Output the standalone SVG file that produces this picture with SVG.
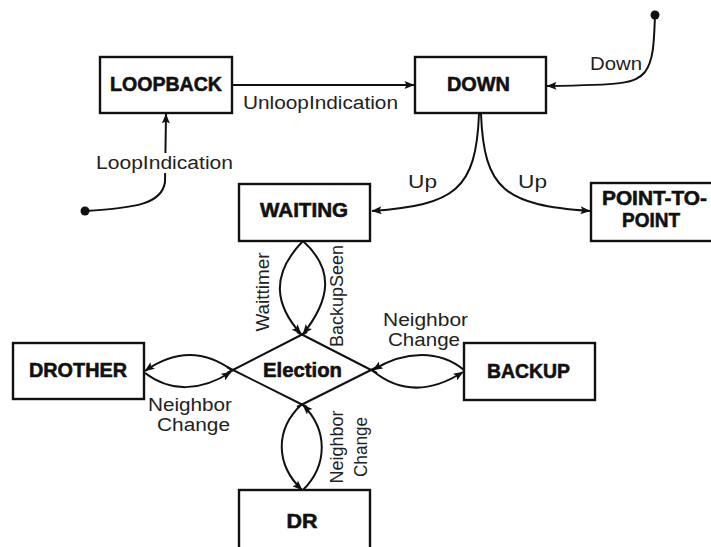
<svg xmlns="http://www.w3.org/2000/svg" width="711" height="547" viewBox="0 0 711 547">
<style>
  .box { fill: #fff; stroke: #111; stroke-width: 2.4; }
  .bl { font-family: "Liberation Sans", Arial, sans-serif; font-weight: bold; font-size: 21px; fill: #111; stroke: #111; stroke-width: 0.6; text-anchor: middle; }
  .lb { font-family: "Liberation Sans", Arial, sans-serif; font-size: 18px; fill: #222; text-anchor: middle; }
  .ln { fill: none; stroke: #111; stroke-width: 2; }
  .arr { fill: none; stroke: #111; stroke-width: 2; marker-end: url(#ah); }
</style>
<defs>
  <marker id="ah" viewBox="0 0 10 8" refX="9.5" refY="4" markerWidth="11" markerHeight="8" markerUnits="userSpaceOnUse" orient="auto">
    <path d="M0,0 L10,4 L0,8 L2,4 Z" fill="#111"/>
  </marker>
</defs>
<rect width="711" height="547" fill="#fff"/>

<g id="connectors">
  <!-- LoopIndication -->
  <circle cx="85" cy="211" r="4.5" fill="#111"/>
  <path class="arr" d="M85 211 C135 208, 162 204, 165 182 L166 114"/>
  <!-- UnloopIndication -->
  <path class="arr" d="M232 85 L414 85"/>
  <!-- Down -->
  <circle cx="655" cy="15" r="4.5" fill="#111"/>
  <path class="arr" d="M655 15 C654 40, 654 60, 645 72 C635 84, 620 85, 547 86"/>
  <!-- Up (to WAITING) -->
  <path class="arr" d="M479 114 C476 190, 455 205, 372 211"/>
  <!-- Up (to POINT-TO-POINT) -->
  <path class="arr" d="M481 114 C484 190, 505 205, 590 211"/>
  <!-- WAITING -> Election -->
  <path class="arr" d="M303 241 C270 275, 275 305, 301 334"/>
  <path class="arr" d="M303 241 C335 270, 330 300, 303 334"/>
  <!-- Election <-> DROTHER -->
  <path class="arr" d="M233 371 C205 350, 175 350, 145 371"/>
  <path class="arr" d="M145 373 C170 392, 200 392, 231 372"/>
  <!-- Election <-> BACKUP -->
  <path class="arr" d="M464 370 C440 350, 405 350, 373 370"/>
  <path class="arr" d="M373 371 C400 393, 430 393, 463 372"/>
  <!-- Election <-> DR -->
  <path class="arr" d="M302 404 C274 430, 276 465, 302 490"/>
  <path class="arr" d="M303 490 C328 465, 328 430, 303 405"/>
</g>

<g id="labels">
  <text class="lb" x="320.5" y="109" textLength="155" lengthAdjust="spacingAndGlyphs">UnloopIndication</text>
  <rect x="95" y="153" width="140" height="20" fill="#fff"/>
  <text class="lb" x="164.5" y="169" textLength="137" lengthAdjust="spacingAndGlyphs">LoopIndication</text>
  <text class="lb" x="616" y="70" textLength="52" lengthAdjust="spacingAndGlyphs">Down</text>
  <text class="lb" x="422.5" y="188" textLength="29" lengthAdjust="spacingAndGlyphs">Up</text>
  <text class="lb" x="532.5" y="188" textLength="29" lengthAdjust="spacingAndGlyphs">Up</text>
  <text class="lb" transform="translate(269 292) rotate(-90)" textLength="79" lengthAdjust="spacingAndGlyphs">Waittimer</text>
  <text class="lb" transform="translate(343 296) rotate(-90)" textLength="102" lengthAdjust="spacingAndGlyphs">BackupSeen</text>
  <text class="lb" x="190" y="411" textLength="84" lengthAdjust="spacingAndGlyphs">Neighbor</text>
  <text class="lb" x="193.5" y="431" textLength="73" lengthAdjust="spacingAndGlyphs">Change</text>
  <text class="lb" x="425.5" y="326" textLength="85" lengthAdjust="spacingAndGlyphs">Neighbor</text>
  <text class="lb" x="424" y="346" textLength="72" lengthAdjust="spacingAndGlyphs">Change</text>
  <text class="lb" transform="translate(343 447) rotate(-90)" textLength="73" lengthAdjust="spacingAndGlyphs">Neighbor</text>
  <text class="lb" transform="translate(367 447) rotate(-90)" textLength="60" lengthAdjust="spacingAndGlyphs">Change</text>
</g>

<g id="node-loopback">
  <rect class="box" x="100" y="57" width="132" height="56"/>
  <text class="bl" x="166" y="91" textLength="112" lengthAdjust="spacingAndGlyphs">LOOPBACK</text>
</g>
<g id="node-down">
  <rect class="box" x="415" y="57" width="131" height="56"/>
  <text class="bl" x="478.5" y="91" textLength="63" lengthAdjust="spacingAndGlyphs">DOWN</text>
</g>
<g id="node-waiting">
  <rect class="box" x="239" y="184" width="131" height="57"/>
  <text class="bl" x="304" y="217" textLength="88" lengthAdjust="spacingAndGlyphs">WAITING</text>
</g>
<g id="node-point-to-point">
  <rect class="box" x="591" y="183" width="131" height="58"/>
  <text class="bl" x="654.5" y="205" textLength="105" lengthAdjust="spacingAndGlyphs">POINT-TO-</text>
  <text class="bl" x="651" y="227" textLength="58" lengthAdjust="spacingAndGlyphs">POINT</text>
</g>
<g id="node-election">
  <line class="ln" x1="227" y1="373" x2="307" y2="332"/>
  <line class="ln" x1="297" y1="332" x2="377" y2="373"/>
  <line class="ln" x1="377" y1="367" x2="297" y2="407"/>
  <line class="ln" x1="307" y1="407" x2="227" y2="367"/>
  <text class="bl" x="302.5" y="377" textLength="79" lengthAdjust="spacingAndGlyphs">Election</text>
</g>
<g id="node-drother">
  <rect class="box" x="13" y="343" width="131" height="56"/>
  <text class="bl" x="78" y="377" textLength="98" lengthAdjust="spacingAndGlyphs">DROTHER</text>
</g>
<g id="node-backup">
  <rect class="box" x="464" y="343" width="131" height="57"/>
  <text class="bl" x="528.5" y="378" textLength="83" lengthAdjust="spacingAndGlyphs">BACKUP</text>
</g>
<g id="node-dr">
  <rect class="box" x="239" y="490" width="131" height="70"/>
  <text class="bl" x="302" y="528" textLength="31" lengthAdjust="spacingAndGlyphs">DR</text>
</g>
</svg>
